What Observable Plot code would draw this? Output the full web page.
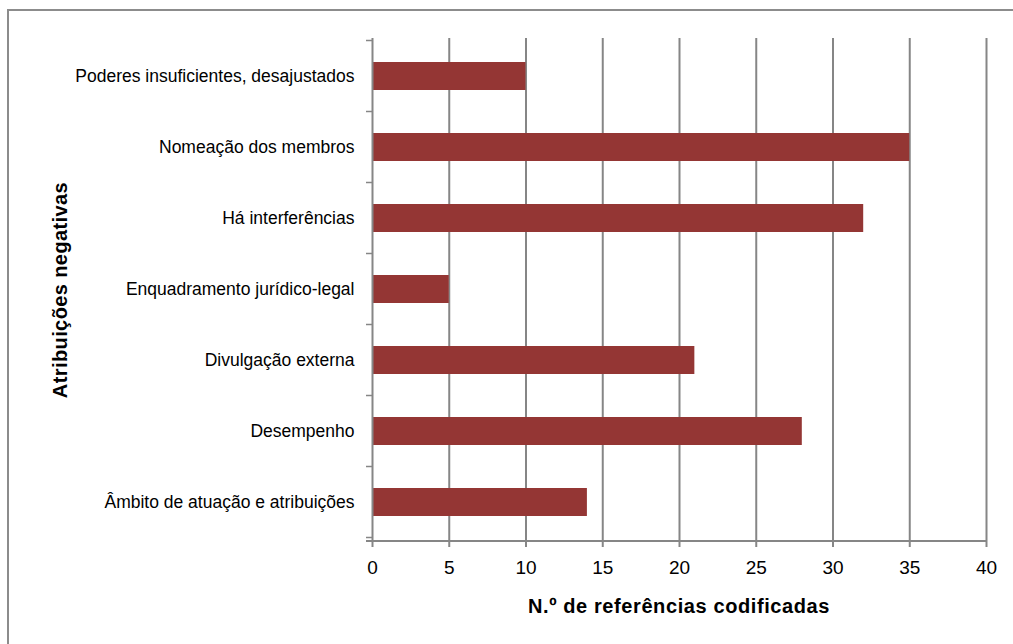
<!DOCTYPE html>
<html>
<head>
<meta charset="utf-8">
<script src="https://cdn.jsdelivr.net/npm/d3@7"></script>
<script src="https://cdn.jsdelivr.net/npm/@observablehq/plot@0.6"></script>
<style>
  html, body { margin: 0; padding: 0; background: #fff; overflow: hidden; }
  #frame {
    position: absolute; left: 7px; top: 9px; width: 1030px; height: 660px;
    border: 2px solid #8c8c8c; box-sizing: border-box;
  }
  #chart { position: absolute; left: 0; top: 0; }
  .ytitle {
    position: absolute; left: 60px; top: 290px;
    transform: translate(-50%, -50%) rotate(-90deg);
    font: bold 20px "Liberation Sans", Arial, sans-serif; letter-spacing: 0.4px;
    white-space: nowrap; color: #000;
  }
  .xtitle {
    position: absolute; left: 679px; top: 606px;
    transform: translate(-50%, -50%);
    font: bold 20px "Liberation Sans", Arial, sans-serif; letter-spacing: 0.6px;
    white-space: nowrap; color: #000;
  }
</style>
</head>
<body>
<div id="frame"></div>
<div id="chart"></div>
<div class="ytitle">Atribuições negativas</div>
<div class="xtitle">N.º de referências codificadas</div>
<script>
// Negative attributions, listed top to bottom
const categories = [
  "Poderes insuficientes, desajustados",
  "Nomeação dos membros",
  "Há interferências",
  "Enquadramento jurídico-legal",
  "Divulgação externa",
  "Desempenho",
  "Âmbito de atuação e atribuições"
];
// Number of coded references per attribution
const counts = [10, 35, 32, 5, 21, 28, 14];
const xTicks = [0, 5, 10, 15, 20, 25, 30, 35, 40];
const gridTicks = [5, 10, 15, 20, 25, 30, 35, 40];

const data = categories.map((c, i) => ({category: c, value: counts[i]}));
const axisColor = "#868686";

// Short ticks on the category axis, placed at the boundaries between bands
function bandBoundaryTicks(index, scales, values, dimensions) {
  const y = scales.y;
  const bw = y.bandwidth();
  const step = y.step();
  const gap = (step - bw) / 2;
  const x0 = dimensions.marginLeft;
  const g = d3.create("svg:g");
  const bounds = categories.map(c => y(c) - gap);
  bounds.push(y(categories[categories.length - 1]) + bw + gap);
  for (const b of bounds) {
    g.append("line")
      .attr("x1", x0 - 6).attr("x2", x0)
      .attr("y1", b).attr("y2", b)
      .attr("stroke", axisColor).attr("stroke-width", 1.5);
  }
  return g.node();
}

// Horizontal baseline, reaching a little past the category axis
function baseline(index, scales, values, d) {
  const g = d3.create("svg:g");
  const yb = d.height - d.marginBottom;
  g.append("line")
    .attr("x1", d.marginLeft - 6).attr("x2", d.width - d.marginRight)
    .attr("y1", yb).attr("y2", yb)
    .attr("stroke", axisColor).attr("stroke-width", 2);
  return g.node();
}

const chart = Plot.plot({
  width: 1013,
  height: 644,
  marginLeft: 372,
  marginRight: 27,
  marginTop: 38,
  marginBottom: 103,
  style: {fontFamily: "'Liberation Sans', Arial, sans-serif", background: "transparent", color: "#000"},
  x: {domain: [0, 40], ticks: xTicks, label: null},
  y: {domain: categories, paddingInner: 0.6, paddingOuter: 0.3, label: null},
  marks: [
    Plot.ruleX(gridTicks, {stroke: axisColor, strokeWidth: 2, strokeOpacity: 1}),
    Plot.barX(data, {x: "value", y: "category", fill: "#943634"}),
    Plot.ruleX([0], {stroke: axisColor, strokeWidth: 2}),
    baseline,
    bandBoundaryTicks,
    Plot.axisX({
      ticks: xTicks, tickSize: 6, tickPadding: 13, stroke: axisColor, strokeWidth: 2,
      fontSize: 19, label: null, tickFormat: d => String(d)
    }),
    Plot.axisY({tickSize: 0, tickPadding: 18, fontSize: 17.5, label: null})
  ]
});
chart.querySelectorAll("text").forEach(t => t.setAttribute("fill", "#000"));
document.getElementById("chart").append(chart);
</script>
</body>
</html>
